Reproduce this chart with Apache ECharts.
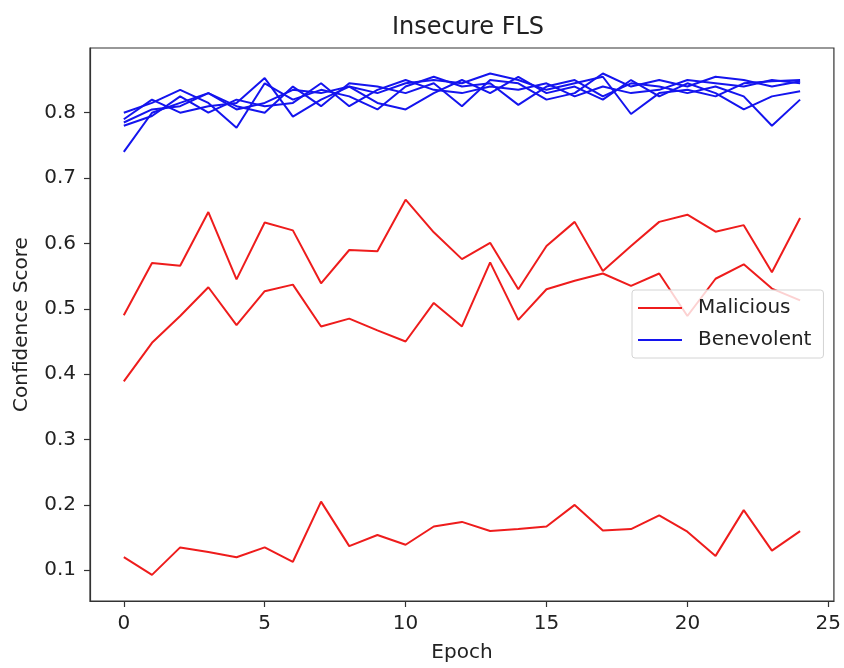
<!DOCTYPE html>
<html>
<head>
<meta charset="utf-8">
<title>Insecure FLS</title>
<script src="https://cdn.jsdelivr.net/npm/echarts@6/dist/echarts.min.js"></script>
<style>
  html, body { margin: 0; padding: 0; background: #fff; }
  #chart { width: 844px; height: 668px; }
</style>
</head>
<body>
<div id="chart"></div>
<script>
// data
var epochs = [0, 1, 2, 3, 4, 5, 6, 7, 8, 9, 10, 11, 12, 13, 14, 15, 16, 17, 18, 19, 20, 21, 22, 23, 24];

var malicious1 = [0.490, 0.570, 0.566, 0.648, 0.545, 0.632, 0.620, 0.539, 0.590, 0.588, 0.667, 0.617, 0.576, 0.601, 0.530, 0.596, 0.633, 0.558, 0.596, 0.633, 0.644, 0.618, 0.628, 0.556, 0.639];
var malicious2 = [0.389, 0.448, 0.489, 0.533, 0.475, 0.527, 0.537, 0.473, 0.485, 0.467, 0.450, 0.509, 0.473, 0.571, 0.483, 0.530, 0.543, 0.554, 0.535, 0.554, 0.489, 0.546, 0.568, 0.531, 0.513];
var malicious3 = [0.120, 0.093, 0.135, 0.128, 0.120, 0.135, 0.113, 0.205, 0.137, 0.154, 0.139, 0.167, 0.174, 0.160, 0.163, 0.167, 0.200, 0.161, 0.163, 0.184, 0.159, 0.122, 0.192, 0.130, 0.160];

var benevolent1 = [0.740, 0.800, 0.815, 0.830, 0.805, 0.815, 0.835, 0.830, 0.840, 0.830, 0.845, 0.850, 0.845, 0.860, 0.850, 0.835, 0.845, 0.855, 0.798, 0.830, 0.835, 0.825, 0.845, 0.848, 0.850];
var benevolent2 = [0.800, 0.815, 0.835, 0.815, 0.777, 0.845, 0.820, 0.835, 0.825, 0.805, 0.840, 0.855, 0.840, 0.845, 0.812, 0.840, 0.850, 0.825, 0.845, 0.840, 0.830, 0.840, 0.825, 0.780, 0.820];
var benevolent3 = [0.785, 0.805, 0.810, 0.830, 0.810, 0.800, 0.840, 0.810, 0.845, 0.840, 0.830, 0.845, 0.810, 0.850, 0.845, 0.820, 0.830, 0.860, 0.840, 0.850, 0.840, 0.855, 0.850, 0.840, 0.848];
var benevolent4 = [0.790, 0.820, 0.800, 0.810, 0.815, 0.853, 0.794, 0.820, 0.840, 0.815, 0.805, 0.830, 0.850, 0.830, 0.855, 0.830, 0.840, 0.820, 0.850, 0.825, 0.845, 0.830, 0.805, 0.825, 0.833];
var benevolent5 = [0.780, 0.795, 0.825, 0.800, 0.820, 0.810, 0.815, 0.845, 0.810, 0.835, 0.850, 0.835, 0.830, 0.840, 0.835, 0.845, 0.825, 0.840, 0.830, 0.835, 0.850, 0.845, 0.840, 0.850, 0.845];

var xTicks = [0, 5, 10, 15, 20, 25];
var yTicks = [0.1, 0.2, 0.3, 0.4, 0.5, 0.6, 0.7, 0.8];

var RED = '#ee1c1c';
var BLUE = '#1414ee';
var FONT = 'DejaVu Sans';
var TEXT = '#222';

function makeLine(name, color, vals) {
  return {
    name: name,
    type: 'line',
    data: epochs.map(function (e, i) { return [e, vals[i]]; }),
    symbol: 'none',
    color: color,
    lineStyle: { width: 2, color: color },
    animation: false
  };
}

var chart = echarts.init(document.getElementById('chart'));

var axisCommon = {
  axisLine: { show: true, onZero: false, lineStyle: { color: '#333', width: 1.2 } },
  axisTick: { show: true, inside: false, length: 6, lineStyle: { color: '#333', width: 1.2 } },
  splitLine: { show: false },
  axisLabel: { color: TEXT, fontFamily: FONT, fontSize: 20 },
  nameTextStyle: { color: TEXT, fontFamily: FONT, fontSize: 20 }
};

var option = {
  backgroundColor: '#fff',
  title: {
    text: 'Insecure FLS',
    left: 463,
    textAlign: 'center',
    top: 11,
    textStyle: { color: TEXT, fontFamily: FONT, fontSize: 24, fontWeight: 'normal' }
  },
  grid: {
    left: 90, right: 7, top: 48, bottom: 65,
    show: true, borderColor: '#333', borderWidth: 1.2, backgroundColor: 'transparent'
  },
  legend: {
    orient: 'vertical',
    left: 632,
    top: 290,
    padding: [8, 12, 8, 6],
    itemGap: 12,
    itemWidth: 44,
    itemHeight: 2,
    icon: 'rect',
    backgroundColor: 'rgba(255,255,255,0.8)',
    borderColor: '#d4d4d4',
    borderWidth: 1,
    borderRadius: 3,
    textStyle: { color: TEXT, fontFamily: FONT, fontSize: 20, padding: [0, 0, 0, 11] },
    data: [
      { name: 'Malicious', itemStyle: { color: RED } },
      { name: 'Benevolent', itemStyle: { color: BLUE } }
    ]
  },
  xAxis: Object.assign({}, axisCommon, {
    type: 'value',
    min: -1.2,
    max: 25.2,
    name: 'Epoch',
    nameLocation: 'middle',
    nameGap: 42,
    axisTick: Object.assign({}, axisCommon.axisTick, { customValues: xTicks }),
    axisLabel: Object.assign({}, axisCommon.axisLabel, { customValues: xTicks, margin: 13 })
  }),
  yAxis: Object.assign({}, axisCommon, {
    type: 'value',
    min: 0.053,
    max: 0.899,
    name: 'Confidence Score',
    nameLocation: 'middle',
    nameGap: 58,
    axisTick: Object.assign({}, axisCommon.axisTick, { customValues: yTicks }),
    axisLabel: Object.assign({}, axisCommon.axisLabel, {
      customValues: yTicks,
      margin: 14,
      formatter: function (v) { return v.toFixed(1); }
    })
  }),
  series: [
    makeLine('Malicious', RED, malicious1),
    makeLine('Malicious', RED, malicious2),
    makeLine('Malicious', RED, malicious3),
    makeLine('Benevolent', BLUE, benevolent1),
    makeLine('Benevolent', BLUE, benevolent2),
    makeLine('Benevolent', BLUE, benevolent3),
    makeLine('Benevolent', BLUE, benevolent4),
    makeLine('Benevolent', BLUE, benevolent5)
  ]
};

chart.setOption(option);
</script>
</body>
</html>
